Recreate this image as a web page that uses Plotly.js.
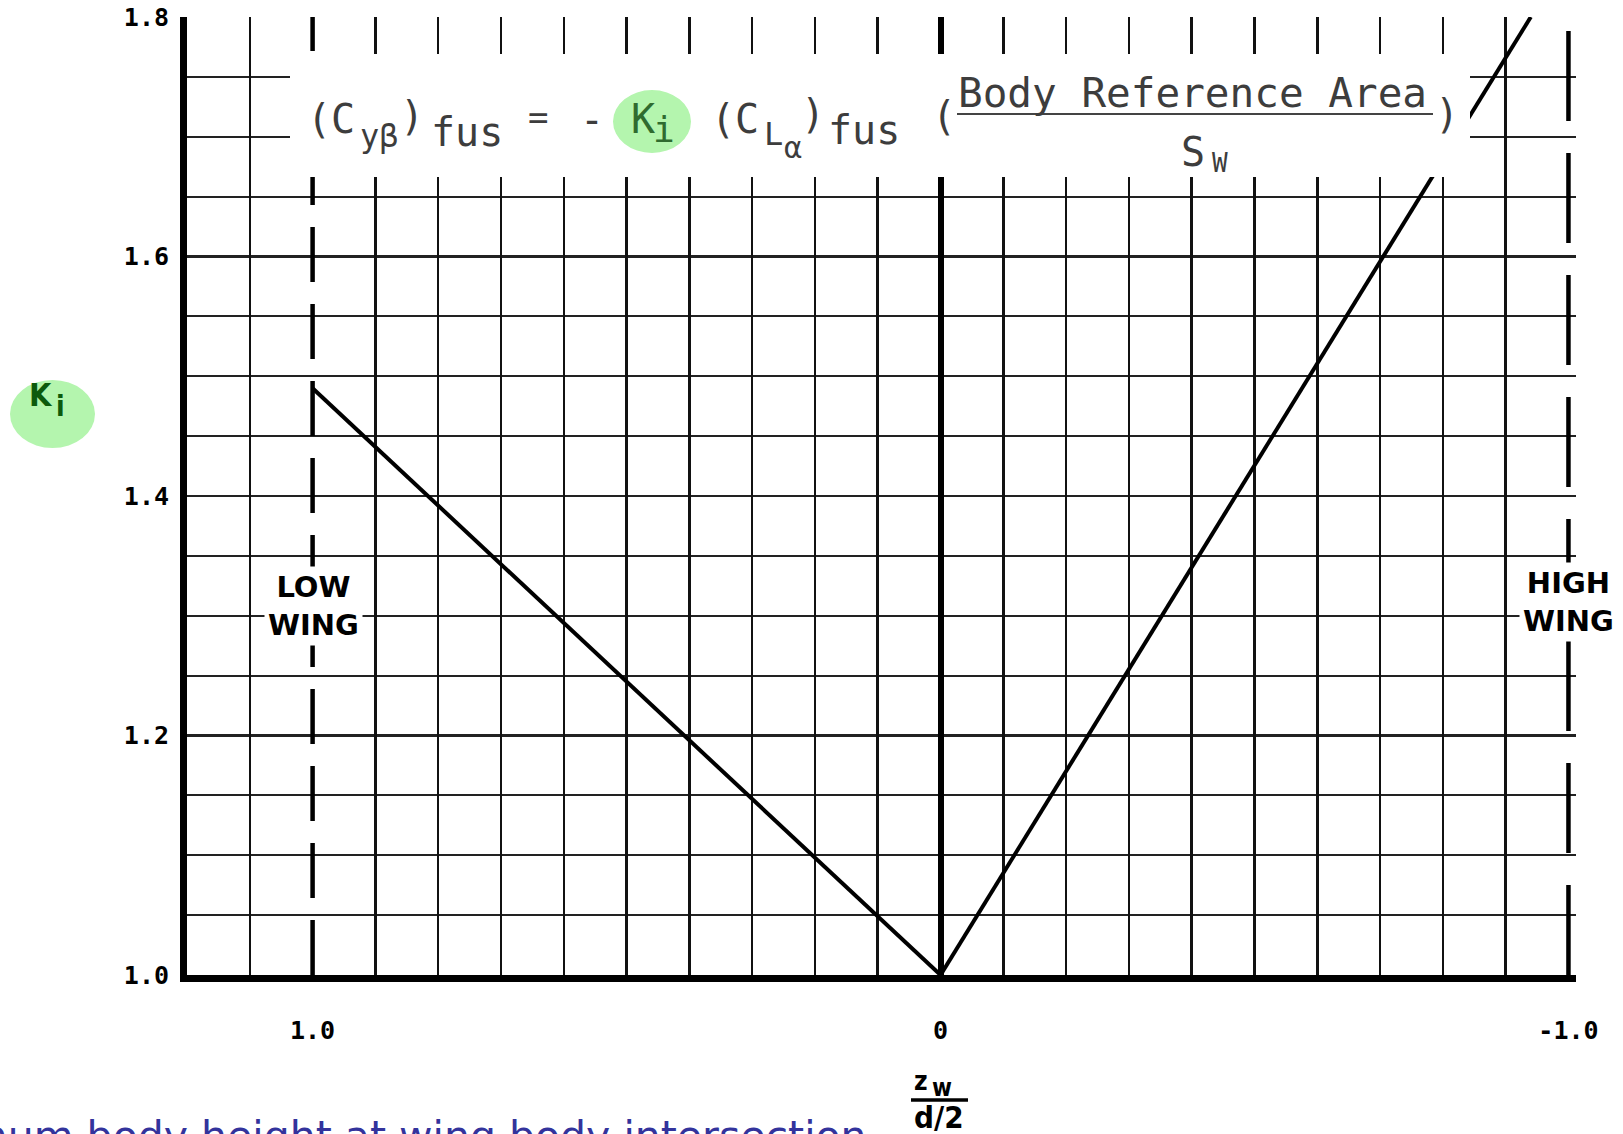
<!DOCTYPE html>
<html>
<head>
<meta charset="utf-8">
<script src="https://cdn.plot.ly/plotly-3.0.1.min.js"></script>
<style>
  html, body { margin: 0; padding: 0; background: #fff; }
  #chart { width: 1623px; height: 1134px; }
</style>
</head>
<body>
<div id="chart"></div>
<script>
// Body-wing interference factor K_i against wing position z_w/(d/2)
const lowWingZ  = [1.0, 0.0];
const lowWingK  = [1.49, 1.0];
const highWingZ = [0.0, -0.94];
const highWingK = [1.0, 1.80];

// Wing-position limits, drawn as dashed boundaries
const lowLimitZ  = [1.0, 1.0];
const highLimitZ = [-1.0, -1.0];
const limitK     = [1.0, 1.8];

// Axis ticks
const xTickVals = [1.0, 0.0, -1.0];
const xTickText = ['1.0', '0', '-1.0'];
const yTickVals = [1.0, 1.2, 1.4, 1.6, 1.8];
const yTickText = ['1.0', '1.2', '1.4', '1.6', '1.8'];

// Vertical chart-paper rulings every 0.1, leaving out the limit lines and the centre line
const xGridVals = [];
for (let k = 11; k >= -9; k--) {
  if (k === 10 || k === 0 || k === -10) continue;
  xGridVals.push(k / 10);
}

// Page geometry
const W = 1623, H = 1134;
const M = { l: 187, r: 47, t: 17, b: 159 };
const px = v => (v - M.l) / (W - M.l - M.r);
const py = v => (H - M.b - v) / (H - M.t - M.b);

const EQ_FONT = 'DejaVu Sans Mono';
const EQ_COLOR = '#3d3d3d';
const GREEN_TXT = '#2f6b2f';
const GREEN_FILL = '#b4f5ae';

function note(text, x, y, size, extra) {
  return Object.assign({
    text: text, xref: 'paper', yref: 'paper', x: px(x), y: py(y),
    xanchor: 'center', yanchor: 'middle', showarrow: false,
    font: { family: EQ_FONT, size: size, color: EQ_COLOR }
  }, extra || {});
}

const lineStyle = { color: '#000', width: 4 };

const traces = [
  { x: lowWingZ, y: lowWingK, mode: 'lines', line: lineStyle, hoverinfo: 'skip', showlegend: false },
  { x: highWingZ, y: highWingK, mode: 'lines', line: lineStyle, hoverinfo: 'skip', showlegend: false },
  { x: lowLimitZ, y: limitK, xaxis: 'x2', mode: 'lines', line: { color: '#000', width: 4.5, dash: '55px,22px' }, hoverinfo: 'skip', showlegend: false },
  { x: highLimitZ, y: limitK, xaxis: 'x2', mode: 'lines', line: { color: '#000', width: 4.5, dash: '90px,32px' }, hoverinfo: 'skip', showlegend: false }
];

const boldTick = { family: 'DejaVu Sans Mono', size: 25, color: '#000', weight: 'bold' };
const wingFont = { family: 'DejaVu Sans', size: 29, color: '#000', weight: 'bold' };
const axFont = { family: 'DejaVu Sans Condensed', color: '#000', weight: 'bold' };

const annotations = [
  // equation
  note('(C', 331, 119, 40),
  note('yβ', 379, 136, 32),
  note(')', 412, 116, 40),
  note('fus', 467, 132, 40),
  note('=', 538, 117, 34),
  note('-', 592, 120, 40),
  note('K', 643, 119, 40, { font: { family: EQ_FONT, size: 40, color: GREEN_TXT } }),
  note('i', 664, 130, 36, { font: { family: EQ_FONT, size: 36, color: GREEN_TXT } }),
  note('(C', 735, 119, 40),
  note('L', 773, 134, 32),
  note('α', 793, 147, 30),
  note(')', 813, 114, 40),
  note('fus', 864, 130, 40),
  note('(', 944, 116, 40),
  note('Body Reference Area', 1192, 93, 41),
  note('S', 1193, 152, 40),
  note('W', 1220, 163, 26),
  note(')', 1447, 114, 40),

  // y-axis title
  note('K', 41, 395, 32, { font: Object.assign({}, axFont, { size: 32, color: '#0c5a0c' }) }),
  note('i', 60, 406, 28, { font: Object.assign({}, axFont, { size: 28, color: '#0c5a0c' }) }),

  // x-axis title
  note('z', 921, 1081, 26, { font: Object.assign({}, axFont, { size: 26 }) }),
  note('w', 942, 1088, 24, { font: Object.assign({}, axFont, { size: 24 }) }),
  note('d/2', 939, 1117, 31, { font: Object.assign({}, axFont, { size: 31 }) }),

  // wing-position labels
  note('LOW<br>WING', 313, 606, 29, { font: wingFont, bgcolor: '#fff', borderpad: 3 }),
  note('HIGH<br>WING', 1568, 602, 29, { font: wingFont, bgcolor: '#fff', borderpad: 3 }),

  // footnote
  note('maximum body height at wing body intersection', 869, 1136, 41, {
    xanchor: 'right',
    font: { family: 'DejaVu Sans', size: 41, color: '#33339c' }
  })
];

const shapes = [
  // white panel behind the equation
  { type: 'rect', xref: 'paper', yref: 'paper', x0: px(290), x1: px(1470), y0: py(177), y1: py(54),
    fillcolor: '#fff', line: { width: 0 }, layer: 'above' },
  // highlight around K_i in the equation
  { type: 'circle', xref: 'paper', yref: 'paper', x0: px(613), x1: px(691), y0: py(153), y1: py(90),
    fillcolor: GREEN_FILL, line: { width: 0 }, layer: 'above' },
  // fraction bar of the area ratio
  { type: 'line', xref: 'paper', yref: 'paper', x0: px(957), x1: px(1433), y0: py(114), y1: py(114),
    line: { color: '#444', width: 2 }, layer: 'above' },
  // highlight around the K_i axis title
  { type: 'circle', xref: 'paper', yref: 'paper', x0: px(10), x1: px(95), y0: py(448), y1: py(380),
    fillcolor: GREEN_FILL, line: { width: 0 }, layer: 'below' },
  // fraction bar of the x-axis title
  { type: 'line', xref: 'paper', yref: 'paper', x0: px(911), x1: px(968), y0: py(1100), y1: py(1100),
    line: { color: '#000', width: 3.5 } }
];

const xRange = [1.2, -1.012];

const layout = {
  width: W, height: H,
  margin: M,
  paper_bgcolor: '#fff', plot_bgcolor: '#fff',
  showlegend: false,
  xaxis: {
    range: xRange,
    tickvals: xTickVals, ticktext: xTickText,
    tickfont: boldTick, ticks: '', ticklabelstandoff: 27,
    showgrid: false,
    zeroline: true, zerolinecolor: '#000', zerolinewidth: 6,
    showline: true, linecolor: '#000', linewidth: 7,
    fixedrange: true
  },
  xaxis2: {
    range: xRange, overlaying: 'x', anchor: 'y', side: 'bottom',
    tickvals: xGridVals, showticklabels: false, ticks: '',
    showgrid: true, gridcolor: '#111', gridwidth: 2.5,
    zeroline: false, showline: false,
    fixedrange: true
  },
  yaxis: {
    range: [1.0, 1.8],
    tickvals: yTickVals, ticktext: yTickText,
    tickfont: boldTick, ticks: '', ticklabelstandoff: 6,
    showgrid: true, gridcolor: '#222', gridwidth: 2.5,
    minor: { tick0: 1.0, dtick: 0.05, showgrid: true, gridcolor: '#222', gridwidth: 2, ticks: '' },
    zeroline: false,
    showline: true, linecolor: '#000', linewidth: 7,
    fixedrange: true
  },
  shapes: shapes,
  annotations: annotations
};

Plotly.newPlot('chart', traces, layout, { staticPlot: true, displayModeBar: false });
</script>
</body>
</html>
